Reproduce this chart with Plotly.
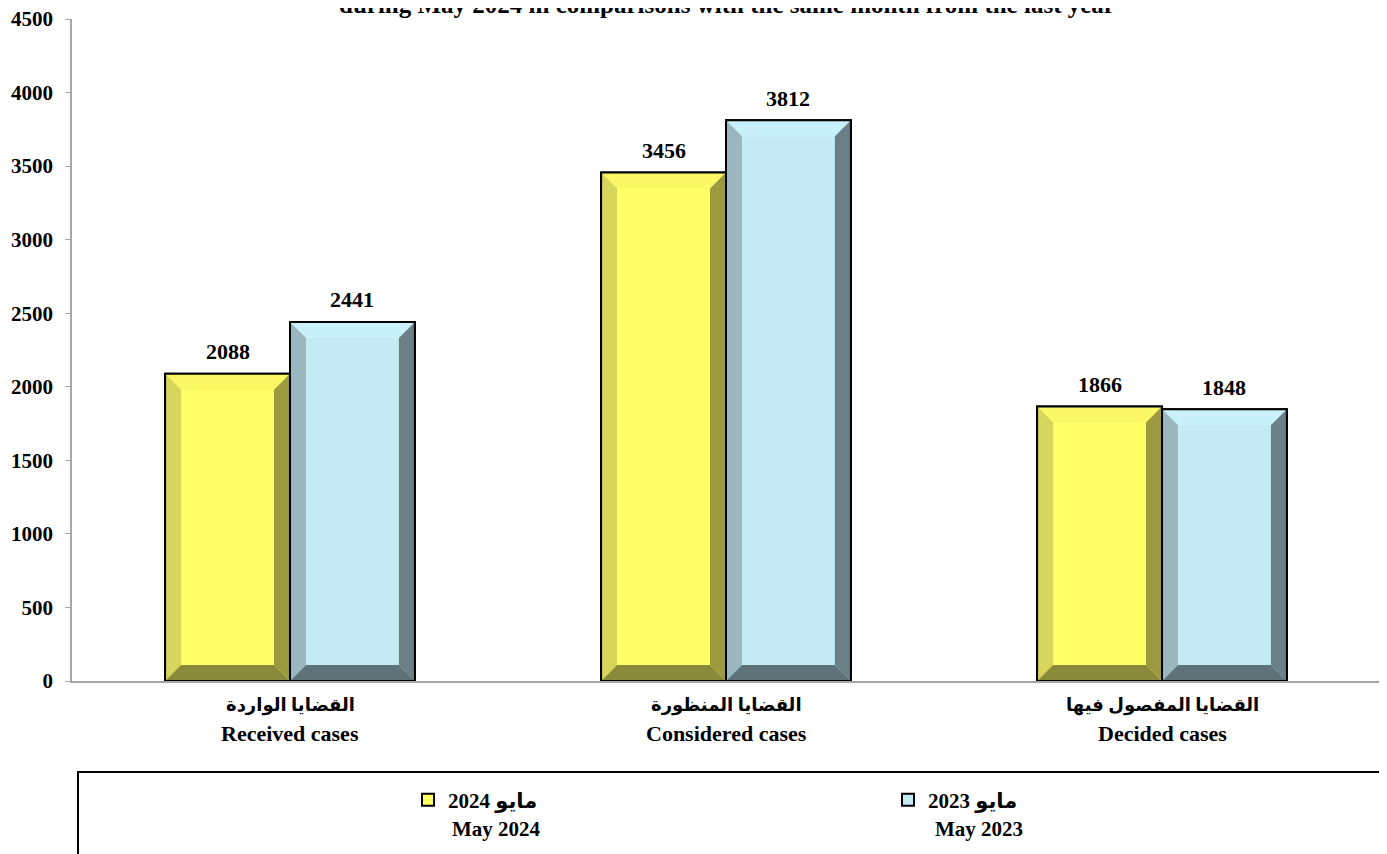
import plotly.graph_objects as go

# ---------------- data ----------------
categories_ar = ["القضايا الواردة", "القضايا المنظورة", "القضايا المفصول فيها"]
categories_en = ["Received cases", "Considered cases", "Decided cases"]
series_names_ar = ["مايو 2024", "مايو 2023"]
series_names_en = ["May 2024", "May 2023"]
values_2024 = [2088, 3456, 1866]
values_2023 = [2441, 3812, 1848]
y_ticks = [0, 500, 1000, 1500, 2000, 2500, 3000, 3500, 4000, 4500]
title_text = "during May 2024 in comparisons with the same month from the last year"

# ---------------- style ----------------
BODY = 8                      # default page margin around the plot div
W, H = 1387 - BODY, 854 - BODY
PLOT_L, PLOT_R, PLOT_T, PLOT_B = 72, 1380, 19, 681   # page pixels
ML = PLOT_L - BODY
MT = PLOT_T - BODY
MR = W - (PLOT_R - BODY)
MB = H - (PLOT_B - BODY)
PLOT_W = PLOT_R - PLOT_L
PLOT_H = PLOT_B - PLOT_T
Y_MAX = 4500
X_RANGE = [-0.5, 2.5]
BARGAP = 0.427
BEVEL_PX = 16
FONT = "Liberation Serif, Times New Roman, DejaVu Sans, serif"


def px_x(page_x):
    return (page_x - PLOT_L) / PLOT_W


def px_y(page_y):
    return (PLOT_B - page_y) / PLOT_H


faces = {
    0: dict(center="#FFFF66", top="#FBF866", left="#D7D55B", right="#9B9A3E", bottom="#8A8A3B"),
    1: dict(center="#C4EAF4", top="#C9F1FB", left="#9AB7C0", right="#6B7F86", bottom="#5E7278"),
}

dx = BEVEL_PX / PLOT_W * (X_RANGE[1] - X_RANGE[0])
dy = BEVEL_PX / PLOT_H * Y_MAX
bw = (1 - BARGAP) / 2

fig = go.Figure()
series_vals = [values_2024, values_2023]
xs = list(range(len(categories_en)))
legend_ids = ["legend", "legend2"]

for s, vals in enumerate(series_vals):
    fig.add_trace(go.Bar(
        x=xs, y=vals, name=series_names_ar[s], legend=legend_ids[s],
        marker=dict(color=faces[s]["center"], line=dict(color="black", width=2)),
        hovertemplate="%{y}<extra>" + series_names_en[s] + "</extra>",
    ))

# bevel faces
for s, vals in enumerate(series_vals):
    polys = {"top": ([], []), "left": ([], []), "right": ([], []), "bottom": ([], [])}
    for i, v in zip(xs, vals):
        x0 = i - bw + s * bw
        x1 = x0 + bw
        pts = {
            "top": [(x0, v), (x1, v), (x1 - dx, v - dy), (x0 + dx, v - dy)],
            "left": [(x0, v), (x0 + dx, v - dy), (x0 + dx, dy), (x0, 0)],
            "right": [(x1, v), (x1 - dx, v - dy), (x1 - dx, dy), (x1, 0)],
            "bottom": [(x0, 0), (x0 + dx, dy), (x1 - dx, dy), (x1, 0)],
        }
        for k, p in pts.items():
            polys[k][0].extend([q[0] for q in p] + [p[0][0], None])
            polys[k][1].extend([q[1] for q in p] + [p[0][1], None])
    for k, (px, py) in polys.items():
        fig.add_trace(go.Scatter(
            x=px, y=py, mode="lines", fill="toself", fillcolor=faces[s][k],
            line=dict(width=0, color=faces[s][k]), showlegend=False, hoverinfo="skip",
        ))

# outlines
for s, vals in enumerate(series_vals):
    ox, oy = [], []
    for i, v in zip(xs, vals):
        x0 = i - bw + s * bw
        x1 = x0 + bw
        ox += [x0, x0, x1, x1, x0, None]
        oy += [0, v, v, 0, 0, None]
    fig.add_trace(go.Scatter(x=ox, y=oy, mode="lines", line=dict(color="black", width=2),
                             showlegend=False, hoverinfo="skip"))

annotations = []
# data labels
for s, vals in enumerate(series_vals):
    for i, v in zip(xs, vals):
        annotations.append(dict(
            x=i - bw / 2 + s * bw, y=v, xref="x", yref="y", text=str(v), showarrow=False,
            yanchor="middle", yshift=22, font=dict(family=FONT, size=22, color="black", weight="bold"),
        ))
# category labels
for i in xs:
    annotations.append(dict(x=i, y=px_y(705), xref="x", yref="paper", text=categories_ar[i],
                            showarrow=False, yanchor="middle",
                            font=dict(family=FONT, size=18, color="black", weight="bold")))
    annotations.append(dict(x=i, y=px_y(733), xref="x", yref="paper", text=categories_en[i],
                            showarrow=False, yanchor="middle",
                            font=dict(family=FONT, size=22, color="black", weight="bold")))
# title (cut at top in the reference)
annotations.append(dict(x=px_x(727), y=px_y(4), xref="paper", yref="paper",
                        text=title_text, showarrow=False, yanchor="middle",
                        font=dict(family=FONT, size=25, color="black", weight="bold")))
# English legend lines
leg_en_x = [450, 933]
for s in range(2):
    annotations.append(dict(x=px_x(leg_en_x[s]), y=px_y(829),
                            xref="paper", yref="paper", text=series_names_en[s], showarrow=False,
                            xanchor="left", yanchor="middle",
                            font=dict(family=FONT, size=21, color="black", weight="bold")))

leg_font = dict(family=FONT, size=21, color="black", weight="bold")
leg_x = [408, 888]
fig.update_layout(
    width=W, height=H,
    margin=dict(l=ML, r=MR, t=MT, b=MB),
    paper_bgcolor="white", plot_bgcolor="white",
    barmode="group", bargap=BARGAP, bargroupgap=0,
    font=dict(family=FONT, color="black"),
    showlegend=True,
    legend=dict(x=px_x(leg_x[0]), y=px_y(800), xanchor="left", yanchor="middle",
                font=leg_font, bgcolor="rgba(0,0,0,0)"),
    legend2=dict(x=px_x(leg_x[1]), y=px_y(800), xanchor="left", yanchor="middle",
                 font=leg_font, bgcolor="rgba(0,0,0,0)"),
    annotations=annotations,
    shapes=[dict(type="rect", xref="paper", yref="paper",
                 x0=px_x(78), x1=1.0, y0=px_y(772), y1=px_y(900),
                 line=dict(color="black", width=2), fillcolor="rgba(0,0,0,0)", layer="below")],
)
fig.update_xaxes(range=X_RANGE, tickvals=xs, ticktext=["", "", ""], showgrid=False, zeroline=False,
                 showline=True, linecolor="#a6a6a6", linewidth=1.5, ticks="", automargin=False)
fig.update_yaxes(range=[0, Y_MAX], tickvals=y_ticks, showgrid=False, zeroline=False,
                 showline=True, linecolor="#a6a6a6", linewidth=1.5, ticks="outside", ticklen=5,
                 tickcolor="#a6a6a6", ticklabelstandoff=8, ticklabeloverflow="allow",
                 automargin=False,
                 tickfont=dict(family=FONT, size=21, color="black", weight="bold"))

fig.write_html("out.html")
